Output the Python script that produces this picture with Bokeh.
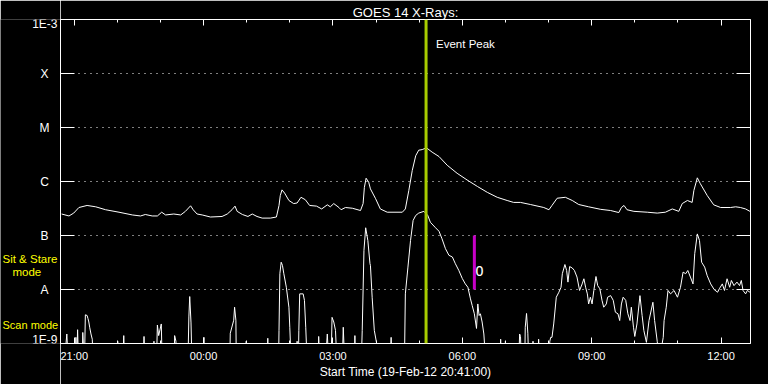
from bokeh.plotting import figure
from bokeh.layouts import row
from bokeh.models import FixedTicker, LinearAxis, LogAxis, Span, Label, Range1d
from bokeh.core.properties import value
from bokeh.embed import file_html
from bokeh.resources import INLINE

# ---------------- data (time in hours since 19-Feb-2012 00:00) ----------------
start_hour = 20 + 41 / 60          # 20:41
end_hour = start_hour + 16         # 12:41 next day
event_peak = 29.16                 # ~05:09
obs_time = 30.28                   # magenta marker ~06:17
obs_range = [1e-8, 1e-7]

level_values = [1e-3, 1e-4, 1e-5, 1e-6, 1e-7, 1e-8, 1e-9]
level_labels = ["1E-3", "X", "M", "C", "B", "A", "1E-9"]

hour_ticks = [21, 24, 27, 30, 33, 36]
hour_labels = ["21:00", "00:00", "03:00", "06:00", "09:00", "12:00"]
minor_hours = [22, 23, 25, 26, 28, 29, 31, 32, 34, 35]

mode_texts = ["Sit & Stare", "mode", "Scan mode"]

# GOES 1-8 A channel (W/m^2)
long_channel = [
    (20.71, 2.5e-7), (20.88, 2.3e-7), (20.99, 2.6e-7), (21.11, 3.3e-7), (21.30, 3.6e-7),
    (21.50, 3.4e-7), (21.73, 3.0e-7), (22.04, 2.7e-7), (22.35, 2.4e-7), (22.54, 2.3e-7),
    (22.65, 2.45e-7), (22.81, 2.3e-7), (22.93, 2.3e-7), (23.03, 2.7e-7), (23.12, 2.4e-7),
    (23.31, 2.5e-7), (23.47, 2.4e-7), (23.58, 2.8e-7), (23.70, 3.55e-7), (23.76, 3.0e-7),
    (23.85, 2.5e-7), (23.97, 2.4e-7), (24.16, 2.2e-7), (24.43, 2.25e-7), (24.55, 2.5e-7),
    (24.66, 3.0e-7), (24.73, 3.5e-7), (24.78, 2.8e-7), (24.90, 2.45e-7), (25.03, 2.25e-7),
    (25.13, 2.5e-7), (25.24, 2.25e-7), (25.36, 2.1e-7), (25.55, 2.1e-7), (25.69, 2.2e-7),
    (25.75, 3.6e-7), (25.78, 5.5e-7), (25.82, 7.0e-7), (25.88, 6.1e-7), (25.98, 4.45e-7),
    (26.09, 3.9e-7), (26.17, 4.0e-7), (26.26, 5.1e-7), (26.36, 4.6e-7), (26.46, 3.6e-7),
    (26.62, 3.5e-7), (26.74, 3.1e-7), (26.87, 3.7e-7), (26.94, 3.4e-7), (27.02, 3.9e-7),
    (27.14, 3.3e-7), (27.19, 3.0e-7), (27.29, 3.3e-7), (27.45, 3.2e-7), (27.64, 2.9e-7),
    (27.70, 3.9e-7), (27.73, 7.8e-7), (27.77, 1.15e-6), (27.83, 9.7e-7), (27.87, 7.3e-7),
    (27.99, 4.8e-7), (28.10, 3.1e-7), (28.26, 2.7e-7), (28.61, 2.7e-7), (28.68, 3.1e-7),
    (28.76, 6.8e-7), (28.84, 1.6e-6), (28.92, 3.0e-6), (28.99, 3.8e-6), (29.07, 3.9e-6),
    (29.17, 4.2e-6), (29.30, 3.5e-6), (29.46, 2.9e-6), (29.65, 2.0e-6), (29.88, 1.42e-6),
    (30.11, 1.07e-6), (30.35, 8.1e-7), (30.58, 6.3e-7), (30.81, 5.1e-7), (31.04, 4.45e-7),
    (31.19, 4.1e-7), (31.35, 4.1e-7), (31.58, 3.75e-7), (31.89, 3.3e-7), (32.01, 3.0e-7),
    (32.08, 3.6e-7), (32.20, 4.9e-7), (32.39, 5.1e-7), (32.55, 4.45e-7), (32.70, 3.75e-7),
    (32.93, 3.4e-7), (33.21, 3.05e-7), (33.44, 2.9e-7), (33.63, 2.66e-7), (33.69, 3.3e-7),
    (33.75, 3.6e-7), (33.82, 3.0e-7), (33.98, 2.8e-7), (34.29, 2.7e-7), (34.52, 2.6e-7),
    (34.71, 2.7e-7), (34.87, 3.1e-7), (35.02, 2.8e-7), (35.10, 3.9e-7), (35.22, 4.45e-7),
    (35.33, 4.1e-7), (35.37, 6.8e-7), (35.45, 1.17e-6), (35.52, 9.1e-7), (35.68, 5.5e-7),
    (35.83, 3.7e-7), (35.99, 3.3e-7), (36.22, 3.3e-7), (36.34, 3.4e-7), (36.45, 3.3e-7),
    (36.57, 3.1e-7), (36.67, 2.8e-7),
]

B = 5e-10  # below the 1E-9 floor of the plot
# GOES 0.5-4 A channel (W/m^2)
short_channel = [
    (20.68, B), (20.78, B), (20.83, 1.5e-9), (20.86, B), (21.03, B), (21.04, 1.3e-9), (21.06, B),
    (21.08, 1.8e-9), (21.10, B), (21.19, B), (21.20, 1.6e-9), (21.23, B), (21.24, B),
    (21.26, 3.4e-9), (21.30, 3.3e-9), (21.32, 2.9e-9), (21.34, 2.5e-9), (21.36, 2.0e-9),
    (21.39, 1.5e-9), (21.42, 1.2e-9), (21.44, B),
    (22.00, B), (22.01, 1.1e-9), (22.03, B),
    (22.13, B), (22.15, 1.4e-9), (22.17, B),
    (22.60, B), (22.62, 1.35e-9), (22.64, B),
    (22.83, B), (22.85, 1.1e-9), (22.87, B),
    (22.91, B), (22.93, 2.2e-9), (22.96, 1.4e-9), (23.02, 2.3e-9), (23.04, B),
    (23.32, B), (23.33, 1.4e-9), (23.36, 1.1e-9), (23.37, B),
    (23.64, B), (23.66, 3.1e-9), (23.68, 7.4e-9), (23.71, 2.4e-9), (23.73, B),
    (23.99, B), (24.01, 1.3e-9), (24.02, B),
    (24.61, B), (24.62, 1.55e-9), (24.70, 2.7e-9), (24.72, 4.7e-9), (24.75, 2.7e-9), (24.76, B),
    (24.98, B), (24.99, 1.1e-9), (25.00, B),
    (25.48, B), (25.49, 1.25e-9), (25.50, B),
    (25.74, B), (25.75, 1.75e-9), (25.77, 1.96e-8), (25.80, 3.2e-8), (25.83, 2.8e-8),
    (25.86, 2.0e-8), (25.92, 1.1e-8), (25.98, 4.7e-9), (26.00, 2.0e-9), (26.03, B),
    (26.16, B), (26.17, 1.1e-9), (26.18, B),
    (26.20, B), (26.21, 1.75e-9), (26.23, 8.3e-9), (26.31, 8.3e-9), (26.34, 6.3e-9),
    (26.37, 2.0e-9), (26.40, B),
    (26.66, B), (26.67, 1.35e-9), (26.69, B),
    (26.83, B), (26.87, 1.5e-9), (26.90, B),
    (26.96, B), (26.98, 3.05e-9), (27.02, 2.5e-9), (27.06, 1.75e-9), (27.09, B),
    (27.22, B), (27.24, 2.0e-9), (27.27, B),
    (27.50, B), (27.51, 1.4e-9), (27.52, B),
    (27.66, B), (27.68, 1.75e-9), (27.72, 5.3e-8), (27.76, 1.39e-7), (27.81, 8.1e-8),
    (27.86, 3.0e-8), (27.87, 2.8e-8), (27.91, 7.2e-9), (27.96, 1.75e-9), (28.01, 1.05e-9), (28.03, B),
    (28.33, B), (28.35, 1.3e-9), (28.37, B),
    (28.66, B), (28.68, 8.3e-9), (28.74, 2.6e-8), (28.80, 8.1e-8), (28.86, 1.9e-7),
    (28.92, 2.35e-7), (28.99, 2.6e-7), (29.11, 2.8e-7), (29.20, 2.35e-7), (29.26, 1.76e-7),
    (29.38, 1.39e-7), (29.46, 1.2e-7), (29.53, 8.7e-8), (29.61, 5.7e-8), (29.69, 4.3e-8),
    (29.77, 4.0e-8), (29.84, 3.0e-8), (29.92, 2.25e-8), (30.00, 1.6e-8), (30.07, 1.27e-8),
    (30.13, 1.1e-8), (30.19, 6.7e-9), (30.23, 5.05e-9), (30.28, 3.55e-9), (30.33, 1.9e-9),
    (30.36, 5.4e-9), (30.39, 3.3e-9), (30.42, 3.55e-9), (30.46, 2.5e-9), (30.50, 1.5e-9), (30.54, B),
    (30.87, B), (30.89, 1.2e-9), (30.91, B), (30.98, B), (31.00, 1.1e-9), (31.02, B),
    (31.31, B), (31.33, 1.5e-9), (31.35, 1.35e-9), (31.37, B),
    (31.45, B), (31.46, 2.0e-9), (31.49, 3.6e-9), (31.52, 1.55e-9), (31.54, B),
    (31.63, B), (31.64, 1.1e-9), (31.66, B), (31.76, B), (31.77, 1.2e-9), (31.79, B),
    (32.01, B), (32.03, 1.1e-9), (32.05, 1.3e-9), (32.08, 1.3e-9), (32.12, 2.3e-9),
    (32.18, 7.2e-9), (32.24, 8.9e-9), (32.29, 1.1e-8), (32.32, 1.96e-8), (32.38, 2.9e-8),
    (32.42, 2.25e-8), (32.45, 1.37e-8), (32.49, 2.66e-8), (32.55, 2.5e-8), (32.60, 2.25e-8),
    (32.66, 1.7e-8), (32.72, 9.6e-9), (32.78, 1.27e-8), (32.82, 1.58e-8), (32.86, 1.1e-8),
    (32.90, 8.3e-9), (32.93, 5.4e-9), (32.97, 7.2e-9), (33.01, 5.4e-9), (33.05, 9.6e-9),
    (33.10, 1.74e-8), (33.14, 1.18e-8), (33.19, 1.03e-8), (33.24, 6.3e-9), (33.28, 4.7e-9),
    (33.34, 5.4e-9), (33.37, 7.2e-9), (33.44, 7.7e-9), (33.50, 6.3e-9), (33.55, 3.8e-9),
    (33.61, 3.55e-9), (33.65, 2.66e-9), (33.69, 5.4e-9), (33.73, 7.2e-9), (33.79, 6.3e-9),
    (33.84, 3.55e-9), (33.89, 2.66e-9), (33.92, 4.7e-9), (33.97, 2.0e-9), (34.00, 1.35e-9),
    (34.05, 2.3e-9), (34.12, 7.7e-9), (34.17, 3.3e-9), (34.21, 1.75e-9), (34.27, 1.05e-9),
    (34.33, 2.66e-9), (34.42, 5.8e-9), (34.46, 2.66e-9), (34.52, 1.1e-9), (34.57, B),
    (34.66, 1.3e-9), (34.68, 2.66e-9), (34.73, 4.7e-9), (34.77, 9.6e-9), (34.83, 8.3e-9),
    (34.91, 9.6e-9), (34.99, 7.2e-9), (35.06, 1.1e-8), (35.12, 2.1e-8), (35.18, 1.96e-8),
    (35.23, 2.25e-8), (35.29, 1.7e-8), (35.35, 1.27e-8), (35.39, 4.6e-8), (35.45, 1.07e-7),
    (35.50, 8.1e-8), (35.55, 3.2e-8), (35.62, 2.6e-8), (35.68, 1.8e-8), (35.76, 1.27e-8),
    (35.84, 1.0e-8), (35.92, 8.9e-9), (35.96, 1.03e-8), (36.03, 1.27e-8), (36.08, 9.6e-9),
    (36.14, 1.58e-8), (36.20, 1.1e-8), (36.24, 1.47e-8), (36.30, 1.18e-8), (36.37, 1.37e-8),
    (36.43, 1.18e-8), (36.47, 1.47e-8), (36.51, 9.6e-9), (36.57, 8.3e-9), (36.61, 9.6e-9),
    (36.67, 8.9e-9),
]

long_t = [t for t, _ in long_channel]
long_f = [f for _, f in long_channel]
short_t = [t for t, _ in short_channel]
short_f = [f for _, f in short_channel]

FONT = "Liberation Sans"
WHITE = "white"
YEL = "#ffff00"
LW = 60            # width of the left label strip (px)
TOP, BOTTOM = 19, 41

y_range = Range1d(level_values[-1], level_values[0])

# ---------------- main plot ----------------
p = figure(width=768 - LW, height=384,
           x_range=Range1d(start_hour, end_hour), y_range=y_range,
           y_axis_type="log", output_backend="svg", toolbar_location=None,
           background_fill_color="black", border_fill_color="black", outline_line_color=None,
           min_border_left=0, min_border_right=18, min_border_top=TOP, min_border_bottom=BOTTOM)

p.title.text = "GOES 14 X-Rays:"
p.title.align = "center"
p.title.text_color = WHITE
p.title.text_font = FONT
p.title.text_font_size = "13px"
p.title.text_font_style = "normal"
p.title.standoff = 0

yticker = FixedTicker(ticks=level_values, minor_ticks=[])
xticker = FixedTicker(ticks=hour_ticks, minor_ticks=minor_hours)
p.xgrid.visible = False
p.ygrid.ticker = yticker
p.ygrid.grid_line_color = WHITE
p.ygrid.grid_line_dash = "1 5"
p.ygrid.grid_line_width = 1


def style_axis(ax, ticker, tick_in, minor_in, show_labels=False):
    ax.ticker = ticker
    ax.axis_line_color = WHITE
    ax.axis_line_width = 1
    ax.major_tick_line_color = WHITE
    ax.minor_tick_line_color = WHITE
    ax.major_tick_in = tick_in
    ax.major_tick_out = 0
    ax.minor_tick_in = minor_in
    ax.minor_tick_out = 0
    if not show_labels:
        ax.major_label_text_font_size = "1px"
        ax.major_label_text_color = None
        ax.major_label_standoff = 0


xb = p.xaxis[0]
style_axis(xb, xticker, 6, 3, show_labels=True)
xb.major_label_overrides = {h: lab for h, lab in zip(hour_ticks, hour_labels)}
xb.major_label_text_color = WHITE
xb.major_label_text_font = FONT
xb.major_label_text_font_size = "11px"
xb.major_label_standoff = 6
xb.axis_label = "Start Time (19-Feb-12 20:41:00)"
xb.axis_label_text_color = WHITE
xb.axis_label_text_font = FONT
xb.axis_label_text_font_size = "12px"
xb.axis_label_text_font_style = "normal"
xb.axis_label_standoff = 0

style_axis(p.yaxis[0], yticker, 14, 0)

top = LinearAxis()
style_axis(top, xticker, 6, 3)
p.add_layout(top, "above")
right = LogAxis()
style_axis(right, yticker, 14, 0)
p.add_layout(right, "right")

p.line(long_t, long_f, line_color=WHITE, line_width=1)
p.line(short_t, short_f, line_color=WHITE, line_width=1)

p.add_layout(Span(location=event_peak, dimension="height", line_color="#a8cc00", line_width=3))
p.add_layout(Label(x=event_peak, y=level_values[0], x_offset=10, y_offset=-24, text="Event Peak",
                   text_color=WHITE, text_font=FONT, text_font_size="11.5px", text_baseline="middle"))

p.segment(x0=[obs_time], y0=[obs_range[0]], x1=[obs_time], y1=[obs_range[1]],
          line_color="#c800c8", line_width=3)
p.add_layout(Label(x=obs_time, y=obs_range[0], x_offset=1, y_offset=19, text="O",
                   text_color=WHITE, text_font="DejaVu Sans Mono", text_font_size="14px",
                   text_baseline="middle", text_align="left"))

# ---------------- left label strip (shares the y scale) ----------------
lp = figure(width=LW, height=384, x_range=Range1d(0, LW), y_range=y_range,
            y_axis_type="log", output_backend="svg", toolbar_location=None,
            x_axis_location=None, y_axis_location=None,
            background_fill_color="black", border_fill_color="black", outline_line_color=None,
            min_border_left=0, min_border_right=0, min_border_top=TOP, min_border_bottom=BOTTOM)
lp.grid.visible = False

# level labels: "1E-x" right aligned near the axis, class letters centred further left
lvl_x = [LW - 3 if lab.startswith("1E") else LW - 16 for lab in level_labels]
lvl_align = ["right" if lab.startswith("1E") else "center" for lab in level_labels]
lvl_dy = [4 if v == level_values[0] else (-4 if v == level_values[-1] else 0) for v in level_values]
lp.text(x=lvl_x, y=level_values, text=level_labels, text_align=lvl_align, y_offset=lvl_dy,
        text_baseline="middle", text_color=WHITE, text_font=value(FONT), text_font_size="12px")

# yellow observing-mode labels (anchored to the A and 1E-9 levels, offsets in px)
lp.text(x=[2, 12, 2], y=[1e-8, 1e-8, 1e-9], text=mode_texts, y_offset=[-31, -18, -19],
        text_align="left", text_baseline="middle", text_color=YEL,
        text_font=value(FONT), text_font_size=["11.5px", "11.5px", "11px"])

layout = row(lp, p)
open("out.html", "w").write(file_html(layout, INLINE))
